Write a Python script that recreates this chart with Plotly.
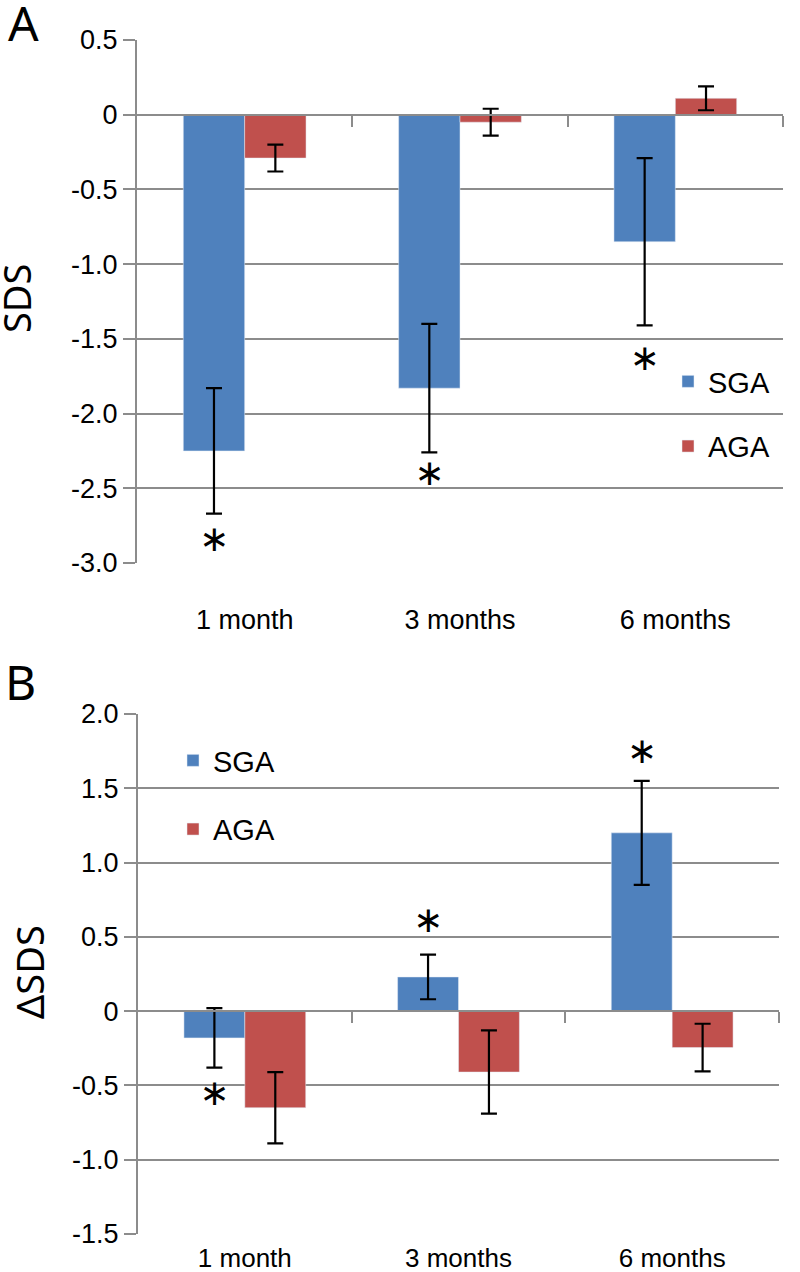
import numpy as np
import plotly.graph_objects as go

categories = ["1 month", "3 months", "6 months"]

# panel A: SDS
sds_sga = [-2.25, -1.83, -0.85]
sds_sga_err = [0.42, 0.43, 0.56]
sds_aga = [-0.29, -0.05, 0.11]
sds_aga_err = [0.09, 0.09, 0.08]
sds_star = [-2.86, -2.42, -1.65]
ticks_a = [0.5, 0, -0.5, -1.0, -1.5, -2.0, -2.5, -3.0]

# panel B: delta SDS
dsds_sga = [-0.18, 0.23, 1.20]
dsds_sga_err = [0.20, 0.15, 0.35]
dsds_aga = [-0.65, -0.41, -0.245]
dsds_aga_err = [0.24, 0.28, 0.16]
dsds_star = [-0.57, 0.59, 1.73]
ticks_b = [2.0, 1.5, 1.0, 0.5, 0, -0.5, -1.0, -1.5]

BLUE = "#4F81BD"
RED = "#C0504D"
GRID = "#8c8c8c"
W, H = 800, 1272
BARGAP = 0.43
TICKFONT = dict(family="Liberation Sans, Arial", size=27, color="black")


def px_x(p):
    return p / W


def px_y(p):
    return 1 - p / H


idx = np.arange(len(categories))
star_x = idx - (1 - BARGAP) / 4


def fmt(v):
    return "0" if v == 0 else f"{v:.1f}"


def err(a):
    return dict(type="data", array=a, color="black", thickness=2.2, width=8)


fig = go.Figure()

panels = [
    # xa, ya, xz, sga, sga_err, aga, aga_err, stars, legend
    ("x", "y", "x3", sds_sga, sds_sga_err, sds_aga, sds_aga_err, sds_star, "legend"),
    ("x2", "y2", "x4", dsds_sga, dsds_sga_err, dsds_aga, dsds_aga_err, dsds_star, "legend2"),
]
for xa, ya, xz, sga, sga_e, aga, aga_e, star, leg in panels:
    fig.add_trace(go.Bar(x=idx, y=sga, error_y=err(sga_e), marker_color=BLUE,
                         name="SGA", legend=leg, legendgroup=leg + "s",
                         xaxis=xa, yaxis=ya))
    fig.add_trace(go.Bar(x=idx, y=aga, error_y=err(aga_e), marker_color=RED,
                         name="AGA", legend=leg, legendgroup=leg + "a",
                         xaxis=xa, yaxis=ya))
    fig.add_trace(go.Scatter(x=star_x, y=star, mode="text", text=["\u2217"] * 3,
                             textposition="middle center",
                             textfont=dict(family="DejaVu Sans", size=36, color="black"),
                             showlegend=False, xaxis=xz, yaxis=ya))

# plot areas in page pixels
dom_a = dict(x=[px_x(137), px_x(783)], y=[px_y(563), px_y(40)])
dom_b = dict(x=[px_x(138), px_x(779)], y=[px_y(1234), px_y(714)])
rng_a = [-3.0, 0.5]
rng_b = [-1.5, 2.0]


def zero_pos(dom, rng):
    return dom["y"][0] + (0 - rng[0]) / (rng[1] - rng[0]) * (dom["y"][1] - dom["y"][0])


def yax(dom, rng, ticks, anchor):
    return dict(domain=dom["y"], range=rng, anchor=anchor, tickvals=ticks,
                ticktext=[fmt(v) for v in ticks], showgrid=True, gridcolor=GRID,
                gridwidth=2, zeroline=False, showline=True, linecolor=GRID, linewidth=2,
                ticks="outside", ticklen=12, tickwidth=2, tickcolor=GRID,
                tickfont=TICKFONT, automargin=False)


def xax(dom, anchor, ticklen, size=27):
    return dict(domain=dom["x"], range=[-0.5, 2.5], anchor=anchor, tickvals=idx,
                ticktext=categories, showgrid=False, zeroline=False, showline=False,
                ticks="outside", ticklen=ticklen, tickcolor="rgba(0,0,0,0)",
                tickfont=dict(TICKFONT, size=size), automargin=False)


def zax(over, dom, rng):
    return dict(overlaying=over, anchor="free", position=zero_pos(dom, rng),
                range=[-0.5, 2.5], tickvals=[0.5, 1.5, 2.5], showticklabels=False,
                showgrid=False, zeroline=False, showline=True, linecolor=GRID,
                linewidth=2, ticks="outside", ticklen=11, tickwidth=2, tickcolor=GRID,
                automargin=False)


legend_font = dict(family="Liberation Sans, Arial", size=29, color="black")
fig.update_layout(
    width=W, height=H,
    margin=dict(l=0, r=0, t=0, b=0),
    paper_bgcolor="white", plot_bgcolor="white",
    barmode="group", bargap=BARGAP, bargroupgap=0,
    xaxis=xax(dom_a, "y", 33),
    yaxis=yax(dom_a, rng_a, ticks_a, "x"),
    xaxis2=xax(dom_b, "y2", 1, 26),
    yaxis2=yax(dom_b, rng_b, ticks_b, "x2"),
    xaxis3=zax("x", dom_a, rng_a),
    xaxis4=zax("x2", dom_b, rng_b),
    legend=dict(x=px_x(708 - 40), y=px_y(356), xanchor="left", yanchor="top",
                font=legend_font, bgcolor="rgba(0,0,0,0)", tracegroupgap=24),
    legend2=dict(x=px_x(213 - 40), y=px_y(735), xanchor="left", yanchor="top",
                 font=legend_font, bgcolor="rgba(0,0,0,0)", tracegroupgap=28),
)

labels = [
    ("A", 23, 22, 0, 48),
    ("B", 20, 681, 0, 48),
    ("SDS", 16, 299, -90, 38),
    ("\u0394SDS", 29, 972, -90, 38),
]
for txt, px_, py_, ang, size in labels:
    fig.add_annotation(text=txt, x=px_x(px_), y=px_y(py_), xref="paper", yref="paper",
                       xanchor="center", yanchor="middle", textangle=ang,
                       showarrow=False, font=dict(family="Noto Sans", size=size, color="black"))

# the page's default body margin would push the figure off the 800x1272 window
fig.write_html("out.html", config={"displayModeBar": False},
               post_script="document.body.style.margin = '0';")
